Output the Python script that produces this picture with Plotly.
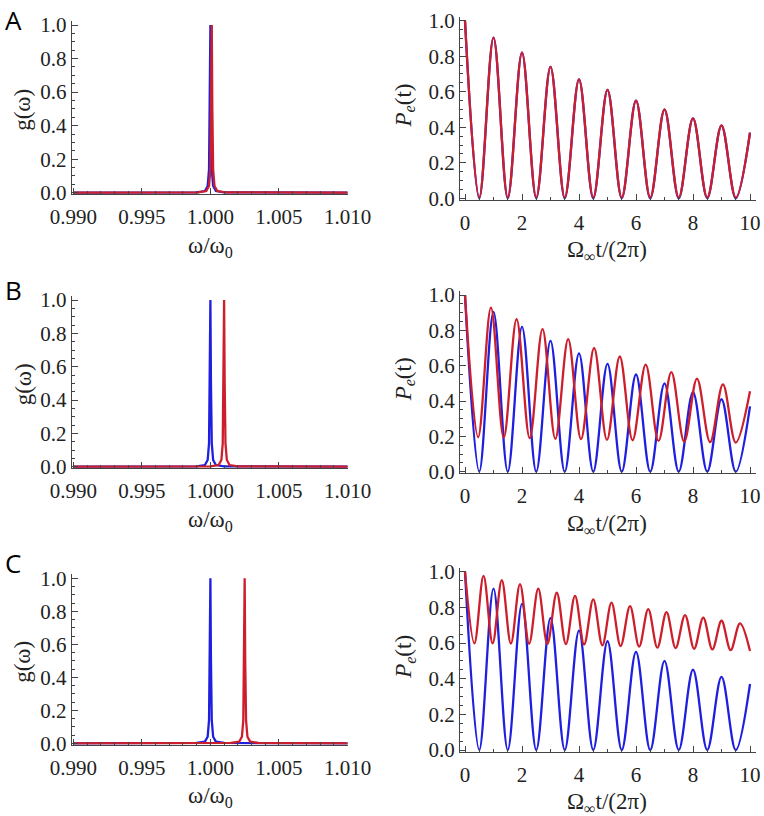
import plotly.graph_objects as go

W, H = 764, 816

# ---------------- data ----------------
# Lorentzian line shape g(omega): offsets from peak centre and values
lor_offsets = [-0.001, -0.0004, -0.0002, -0.0001, -0.00004, 0.0, 0.00004, 0.0001, 0.0002, 0.0004, 0.001]
lor_values = [0.002, 0.01, 0.04, 0.14, 0.5, 1.0, 0.5, 0.14, 0.04, 0.01, 0.002]
omega_min, omega_max = 0.990, 1.010
blue_centre = 1.0000
red_centres = [1.0001, 1.0010, 1.0025]   # panels A, B, C

# Excited-state population P_e(t): turning points of the curves
blue_t = [0, 0.5, 1, 1.5, 2, 2.5, 3, 3.5, 4, 4.5, 5, 5.5, 6, 6.5, 7, 7.5, 8, 8.5, 9, 9.5, 10]
blue_p = [1.0, 0.0, 0.905, 0.0, 0.82, 0.0, 0.74, 0.0, 0.67, 0.0, 0.61, 0.0, 0.55, 0.0,
          0.50, 0.0, 0.45, 0.0, 0.41, 0.0, 0.37]

redA_t = [0, 0.5, 1, 1.5, 2, 2.5, 3, 3.5, 4, 4.5, 5, 5.5, 6, 6.5, 7, 7.5, 8, 8.5, 9, 9.5, 10]
redA_p = [1.0, 0.004, 0.905, 0.004, 0.82, 0.004, 0.74, 0.004, 0.67, 0.004, 0.61, 0.004, 0.55,
          0.004, 0.50, 0.004, 0.45, 0.004, 0.41, 0.004, 0.37]

redB_t = [0, 0.46, 0.91, 1.36, 1.81, 2.27, 2.72, 3.17, 3.62, 4.07, 4.53, 4.98, 5.43, 5.88,
          6.34, 6.79, 7.24, 7.69, 8.14, 8.60, 9.05, 9.50, 10.0]
redB_p = [1.0, 0.195, 0.928, 0.193, 0.864, 0.19, 0.807, 0.186, 0.75, 0.184, 0.70, 0.18, 0.652,
          0.178, 0.606, 0.174, 0.564, 0.17, 0.527, 0.167, 0.494, 0.165, 0.455]

redC_t = [0, 0.33, 0.65, 0.97, 1.29, 1.61, 1.93, 2.25, 2.57, 2.89, 3.22, 3.54, 3.86, 4.18,
          4.50, 4.82, 5.14, 5.46, 5.79, 6.11, 6.43, 6.75, 7.07, 7.39, 7.72, 8.04, 8.36, 8.68,
          9.00, 9.32, 9.65, 10.0]
redC_p = [1.0, 0.598, 0.977, 0.598, 0.953, 0.597, 0.93, 0.596, 0.905, 0.595, 0.882, 0.594,
          0.864, 0.592, 0.845, 0.587, 0.826, 0.583, 0.807, 0.58, 0.79, 0.574, 0.773, 0.572,
          0.757, 0.568, 0.742, 0.564, 0.725, 0.56, 0.71, 0.555]

panel_labels = ["A", "B", "C"]
y_ticks = [0.0, 0.2, 0.4, 0.6, 0.8, 1.0]
omega_ticks = [0.990, 0.995, 1.000, 1.005, 1.010]
t_ticks = [0, 2, 4, 6, 8, 10]

BLUE = "#1f1fe0"
RED = "#cc1f2b"
AX = "#444444"
SERIF = "'Liberation Serif', 'Times New Roman', Times, serif"
SANS = "'Open Sans', 'Liberation Sans', sans-serif"

# ---------------- layout geometry (reference page pixels) ----------------
left_rows = [(25.0, 192.7), (300.0, 466.7), (578.3, 743.3)]
right_rows = [(20.7, 198.3), (295.0, 471.7), (571.7, 750.0)]
left_x = (73.3, 347.5, 71.7, 348.3)    # px of 0.990, px of 1.010, axis start, axis end
right_x = (465.0, 750.0, 460.0, 756.0)  # px of 0, px of 10, axis start, axis end
letter_top = [0, 270, 543]              # top of the panel-letter text boxes


def fx(px):
    return px / W


def fy(py):
    return 1 - py / H


fig = go.Figure()
layout = dict(template="none", width=W, height=H, margin=dict(l=0, r=0, t=0, b=0, pad=0),
              autosize=False, paper_bgcolor="white", plot_bgcolor="white", showlegend=False)
annotations = []


def xaxis_cfg(geom, v0, v1, ticks, fmt, minor_dt, tick0):
    p0, p1, a0, a1 = geom
    s = (p1 - p0) / (v1 - v0)
    rng = [v0 - (p0 - a0) / s, v1 + (a1 - p1) / s]
    return dict(domain=[fx(a0), fx(a1)], range=rng, showgrid=False, zeroline=False,
                automargin=False, ticklabeloverflow="allow",
                showline=True, linecolor=AX, linewidth=1, ticks="inside", ticklen=6,
                tickwidth=1, tickcolor=AX, tickvals=ticks, tickformat=fmt,
                tickfont=dict(family=SERIF, size=21, color="#222"),
                ticklabelstandoff=4,
                minor=dict(dtick=minor_dt, tick0=tick0, ticks="inside", ticklen=3,
                           tickcolor=AX, tickwidth=1, showgrid=False),
                fixedrange=True)


def yaxis_cfg(row, anchor):
    y1, y0 = row
    s = y0 - y1
    bot_px, top_px = y0 + 1.5, y1 - 4.0
    rng = [-(bot_px - y0) / s, 1 + (y1 - top_px) / s]
    return dict(domain=[fy(bot_px), fy(top_px)], range=rng, anchor=anchor,
                automargin=False, ticklabeloverflow="allow",
                showgrid=False, zeroline=False, showline=True, linecolor=AX, linewidth=1,
                ticks="inside", ticklen=6, tickwidth=1, tickcolor=AX, tickvals=y_ticks,
                tickformat=".1f", tickfont=dict(family=SERIF, size=21, color="#222"),
                ticklabelstandoff=0,
                minor=dict(dtick=0.05, tick0=0, ticks="inside", ticklen=3, tickcolor=AX,
                           tickwidth=1, showgrid=False),
                fixedrange=True)


for i in range(3):
    nl = 2 * i + 1
    nr = 2 * i + 2
    xl, yl = ("x" if nl == 1 else f"x{nl}"), ("y" if nl == 1 else f"y{nl}")
    xr, yr = f"x{nr}", f"y{nr}"

    # --- left: spectra ---
    for centre, col in [(blue_centre, BLUE), (red_centres[i], RED)]:
        xs = [omega_min] + [centre + o for o in lor_offsets] + [omega_max]
        ys = [0.0] + lor_values + [0.0]
        fig.add_trace(go.Scatter(x=xs, y=ys, mode="lines", xaxis=xl, yaxis=yl,
                                 line=dict(color=col, width=2.3), hoverinfo="skip"))

    # --- right: populations ---
    rt, rp = [(redA_t, redA_p), (redB_t, redB_p), (redC_t, redC_p)][i]
    fig.add_trace(go.Scatter(x=blue_t, y=blue_p, mode="lines", xaxis=xr, yaxis=yr,
                             line=dict(color=BLUE, width=2.3, shape="spline", smoothing=1.0),
                             hoverinfo="skip"))
    fig.add_trace(go.Scatter(x=rt, y=rp, mode="lines", xaxis=xr, yaxis=yr,
                             line=dict(color=RED, width=2.3, shape="spline", smoothing=1.0),
                             hoverinfo="skip"))

    kxl = "xaxis" if nl == 1 else f"xaxis{nl}"
    kyl = "yaxis" if nl == 1 else f"yaxis{nl}"
    layout[kxl] = xaxis_cfg(left_x, omega_min, omega_max, omega_ticks, ".3f", 0.001, 0.990)
    layout[kxl]["anchor"] = yl
    layout[kyl] = yaxis_cfg(left_rows[i], xl)
    layout[f"xaxis{nr}"] = xaxis_cfg(right_x, 0, 10, t_ticks, "d", 0.5, 0)
    layout[f"xaxis{nr}"]["anchor"] = yr
    layout[f"yaxis{nr}"] = yaxis_cfg(right_rows[i], xr)

    # axis titles & panel letters
    ly1, ly0 = left_rows[i]
    ry1, ry0 = right_rows[i]
    annotations += [
        dict(text="g(ω)", x=fx(23), y=fy((ly1 + ly0) / 2 + 1), textangle=-90,
             font=dict(family=SERIF, size=23, color="#222")),
        dict(text="ω/ω<sub>0</sub>", x=fx(210), y=fy(ly0 + 54),
             font=dict(family=SERIF, size=23, color="#222")),
        dict(text="<i>P</i><sub><i>e</i></sub>(t)", x=fx(405),
             y=fy((ry1 + ry0) / 2 - 4), textangle=-90,
             font=dict(family=SERIF, size=23, color="#222")),
        dict(text="Ω<sub>∞</sub>t/(2π)", x=fx(607), y=fy(ry0 + 53),
             font=dict(family=SERIF, size=23, color="#222")),
        dict(text=panel_labels[i], x=fx(13), y=fy(letter_top[i]), yanchor="top",
             font=dict(family=SANS, size=26, color="black")),
    ]

for a in annotations:
    a.setdefault("yanchor", "middle")
    a.update(xref="paper", yref="paper", showarrow=False, xanchor="center")
layout["annotations"] = annotations
fig.update_layout(**layout)
fig.write_html("out.html", config={"displayModeBar": False, "staticPlot": True},
               post_script="document.body.style.margin='0';document.body.style.overflow='hidden';")
